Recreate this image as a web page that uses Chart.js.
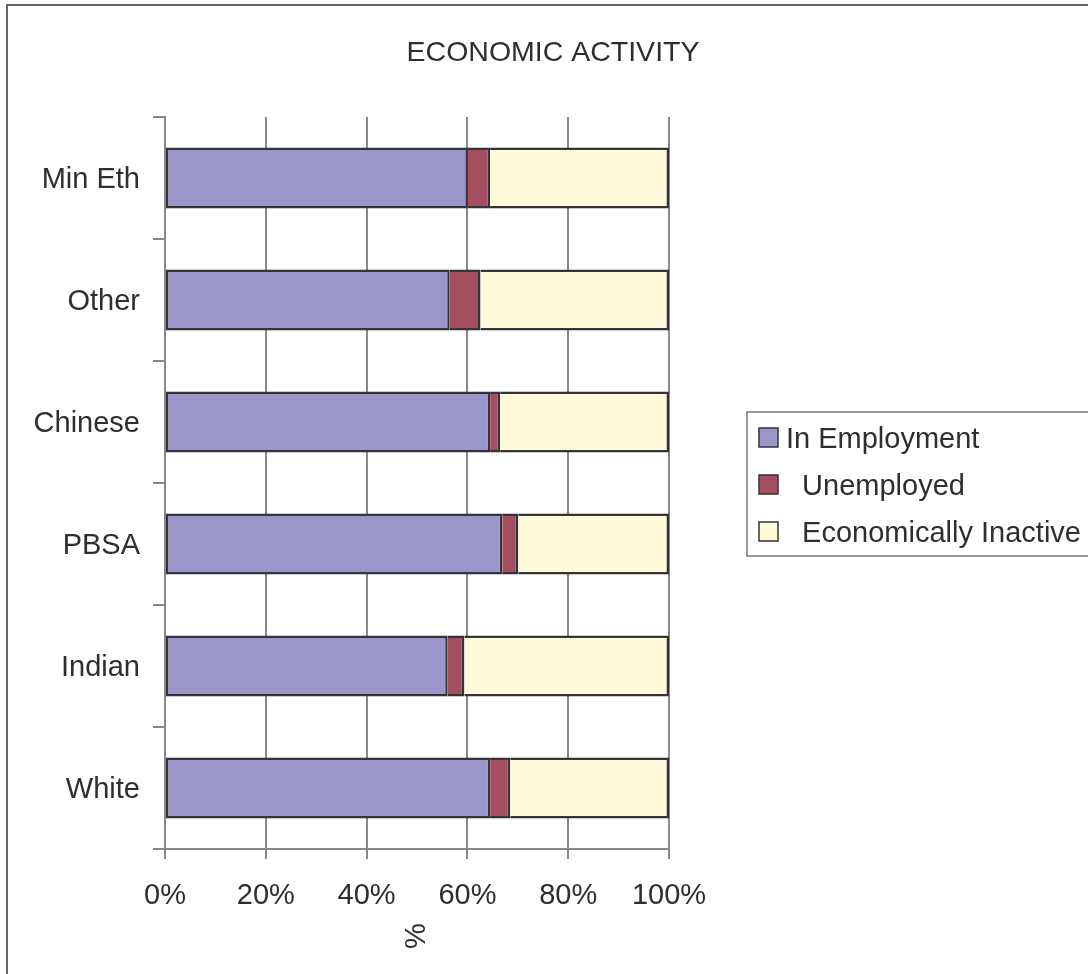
<!DOCTYPE html>
<html>
<head>
<meta charset="utf-8">
<title>Economic Activity</title>
<script src="https://cdn.jsdelivr.net/npm/chart.js@4/dist/chart.umd.min.js"></script>
<style>
  html, body { margin: 0; padding: 0; background: #ffffff; }
  #wrap { position: relative; width: 1088px; height: 974px; }
</style>
</head>
<body>
<div id="wrap"><canvas id="chart"></canvas></div>
<script>
// Groups, listed top to bottom as they appear on the chart
const categories = ['Min Eth', 'Other', 'Chinese', 'PBSA', 'Indian', 'White'];

// Share of each group (%)
const inEmployment = [60.1, 56.5, 64.5, 66.9, 56.1, 64.5];
const unemployed = [4.4, 6.1, 2.0, 3.2, 3.3, 4.0];
const economicallyInactive = [35.5, 37.4, 33.5, 29.9, 40.6, 31.5];

const xTicks = [0, 20, 40, 60, 80, 100];

const seriesNames = ['In Employment', '  Unemployed', '  Economically Inactive'];
const seriesColors = ['#9b96c9', '#a44e60', '#fffad9'];

const FONT = '"Liberation Sans", Arial, Helvetica, sans-serif';
const TEXT = '#2e2e2e';
const GRID = '#878787';
const EDGE = '#333338';

// Frame, title, x-axis caption and boxed legend drawn on the canvas
const decorations = {
  id: 'decorations',
  beforeDraw(chart) {
    const ctx = chart.ctx;
    ctx.save();
    ctx.strokeStyle = '#666666';
    ctx.lineWidth = 2;
    ctx.beginPath();
    ctx.moveTo(7, chart.height);
    ctx.lineTo(7, 5);
    ctx.lineTo(chart.width, 5);
    ctx.stroke();
    ctx.restore();
  },
  afterDraw(chart) {
    const ctx = chart.ctx;
    const area = chart.chartArea;
    ctx.save();
    ctx.fillStyle = TEXT;
    ctx.font = '28.5px ' + FONT;
    ctx.textAlign = 'center';
    ctx.textBaseline = 'middle';
    ctx.fillText('ECONOMIC ACTIVITY', 553, 53);

    // rotated axis caption
    ctx.font = '29px ' + FONT;
    ctx.save();
    ctx.translate((area.left + area.right) / 2, 936);
    ctx.rotate(-Math.PI / 2);
    ctx.fillText('%', 0, 0);
    ctx.restore();

    // legend
    const lx = 747, ly = 412, lh = 144;
    ctx.strokeStyle = '#7a7a7a';
    ctx.lineWidth = 1.5;
    ctx.strokeRect(lx, ly, chart.width - lx + 20, lh);
    const rows = [438, 485, 532];
    ctx.textAlign = 'left';
    chart.data.datasets.forEach((ds, i) => {
      const cy = rows[i];
      ctx.fillStyle = ds.backgroundColor;
      ctx.fillRect(759, cy - 10, 19, 19);
      ctx.strokeStyle = EDGE;
      ctx.lineWidth = 1.5;
      ctx.strokeRect(759, cy - 10, 19, 19);
      ctx.fillStyle = TEXT;
      ctx.fillText(ds.label, 786, cy + 1.5);
    });
    ctx.restore();
  }
};

const values = [inEmployment, unemployed, economicallyInactive];

new Chart(document.getElementById('chart'), {
  type: 'bar',
  data: {
    labels: categories,
    datasets: values.map((v, i) => ({
      label: seriesNames[i],
      data: v,
      backgroundColor: seriesColors[i],
      borderColor: EDGE,
      borderWidth: 2.5,
      borderSkipped: i === 0 ? false : 'start',
      categoryPercentage: 1.0,
      barPercentage: 0.5
    }))
  },
  options: {
    indexAxis: 'y',
    responsive: true,
    maintainAspectRatio: false,
    animation: false,
    layout: { padding: { left: 0, right: 419, top: 117, bottom: 0 } },
    plugins: {
      legend: { display: false },
      title: { display: false },
      tooltip: { enabled: false }
    },
    scales: {
      x: {
        stacked: true,
        min: 0,
        max: 100,
        afterBuildTicks(scale) {
          scale.ticks = xTicks.map(v => ({ value: v }));
        },
        afterFit(scale) { scale.height = 125; },
        ticks: {
          callback: v => v + '%',
          color: TEXT,
          font: { family: FONT, size: 29 },
          padding: 20,
          maxRotation: 0
        },
        grid: {
          color: GRID,
          lineWidth: 2,
          drawTicks: true,
          tickLength: 10,
          tickColor: GRID
        },
        border: { display: true, color: GRID, width: 2 }
      },
      y: {
        stacked: true,
        afterFit(scale) { scale.width = 165; },
        ticks: {
          color: TEXT,
          font: { family: FONT, size: 29 },
          padding: 13,
          labelOffset: 2
        },
        grid: {
          offset: true,
          drawOnChartArea: false,
          drawTicks: true,
          tickLength: 12,
          tickColor: GRID,
          lineWidth: 2
        },
        border: { display: true, color: GRID, width: 2 }
      }
    }
  },
  plugins: [decorations]
});
</script>
</body>
</html>
